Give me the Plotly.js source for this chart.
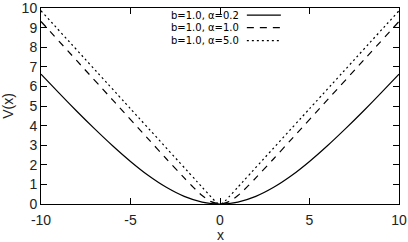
<!DOCTYPE html>
<html><head><meta charset="utf-8">
<script src="https://cdn.plot.ly/plotly-3.0.1.min.js"></script>
<style>html,body{margin:0;padding:0;background:#fff}#c{width:408px;height:242px}</style>
</head><body><div id="c"></div>
<script>
// Values
const xA = [-10,-9,-8,-7,-6,-5,-4,-3,-2,-1,0,1,2,3,4,5,6,7,8,9,10];
const vA = [6.62,5.67,4.73,3.83,2.97,2.17,1.45,0.85,0.39,0.10,0,0.10,0.39,0.85,1.45,2.17,2.97,3.83,4.73,5.67,6.62];
const xB = [-10,-8,-6,-4,-3,-2,-1.5,-1,-0.5,0,0.5,1,1.5,2,3,4,6,8,10];
const vB = [9.31,7.31,5.31,3.31,2.31,1.33,0.86,0.43,0.12,0,0.12,0.43,0.86,1.33,2.31,3.31,5.31,7.31,9.31];
const xC = [-10,-5,-1,-0.5,-0.3,-0.2,-0.1,0,0.1,0.2,0.3,0.5,1,5,10];
const vC = [9.86,4.86,0.86,0.36,0.17,0.09,0.02,0,0.02,0.09,0.17,0.36,0.86,4.86,9.86];
const labels = ['b=1.0, α=0.2','b=1.0, α=1.0','b=1.0, α=5.0'];
const dashes = ['solid','7px,6px','2px,3px'];
const xTicks = [-10,-5,0,5,10];
const yTicks = [0,1,2,3,4,5,6,7,8,9,10];
const xTitle = 'x';
const yTitle = 'V(x)';

const series = [[xA,vA],[xB,vB],[xC,vC]];
const traces = series.map((s,i)=>({
  x:s[0], y:s[1], type:'scatter', mode:'lines', name:labels[i],
  line:{color:'#000', width:1.2, dash:dashes[i], shape:'spline', smoothing:0.6},
  showlegend:false, hoverinfo:'skip', cliponaxis:false
}));

const rowsY = [0.964,0.9,0.834];
const annotations = labels.map((t,i)=>({
  xref:'paper', yref:'paper', x:0.558, y:rowsY[i], xanchor:'right', yanchor:'middle',
  text:t, showarrow:false, font:{family:'DejaVu Sans', size:10, color:'#000'}
}));
annotations.push({xref:'paper', yref:'paper', x:0.5, y:0, yshift:-31, xanchor:'center', yanchor:'middle',
  text:xTitle, showarrow:false, font:{family:'Liberation Sans', size:14, color:'#222'}});
const shapes = labels.map((t,i)=>({
  type:'line', xref:'paper', yref:'paper', x0:0.575, x1:0.67, y0:rowsY[i], y1:rowsY[i],
  line:{color:'#000', width:1.2, dash:dashes[i]}
}));

const axisCommon = {
  showgrid:false, zeroline:false, showline:true, mirror:'ticks', linecolor:'#000', linewidth:1,
  ticks:'inside', ticklen:6, tickcolor:'#000', tickwidth:1, ticklabeloverflow:'allow',
  tickfont:{family:'Liberation Sans', size:14, color:'#222'}
};
const layout = {
  width:408, height:242, margin:{l:41, r:9, t:8, b:38},
  paper_bgcolor:'#fff', plot_bgcolor:'#fff',
  xaxis:Object.assign({}, axisCommon, {range:[-10,10], tickmode:'array', tickvals:xTicks, ticktext:xTicks.map(String),
    ticklabelstandoff:3}),
  yaxis:Object.assign({}, axisCommon, {range:[0,10], tickmode:'array', tickvals:yTicks, ticktext:yTicks.map(String),
    title:{text:yTitle, font:{family:'Liberation Sans', size:14, color:'#222'}, standoff:6}}),
  annotations, shapes
};
Plotly.newPlot('c', traces, layout, {staticPlot:true, displayModeBar:false});
</script></body></html>
